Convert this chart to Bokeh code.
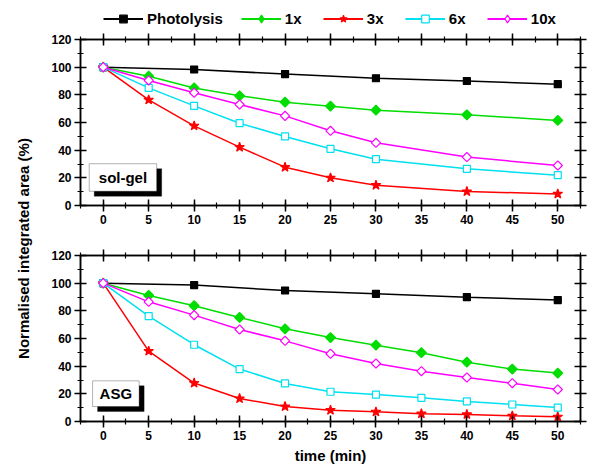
import math
from bokeh.plotting import figure
from bokeh.layouts import row, column
from bokeh.models import (Range1d, LinearAxis, Legend, LegendItem, BoxAnnotation,
                          Label, SingleIntervalTicker, CustomJSTickFormatter)
from bokeh.embed import file_html
from bokeh.resources import INLINE

# ---------------- data ----------------
t_photo = [0, 10, 20, 30, 40, 50]
t_sg = [0, 5, 10, 15, 20, 25, 30, 40, 50]
t_asg = [0, 5, 10, 15, 20, 25, 30, 35, 40, 45, 50]

sg_photo = [100, 98.3, 95.0, 92.0, 90.0, 87.7]
sg_1x = [100, 93.5, 85.0, 79.3, 74.7, 71.8, 68.9, 65.6, 61.5]
sg_3x = [100, 76.4, 57.6, 42.2, 27.7, 20.0, 14.7, 10.1, 8.4]
sg_6x = [100, 85.0, 72.0, 59.5, 49.9, 41.0, 33.5, 26.5, 21.9]
sg_10x = [100, 90.4, 81.5, 73.0, 64.8, 54.0, 45.3, 35.0, 28.9]

asg_photo = [100, 98.6, 94.7, 92.3, 89.9, 87.8]
asg_1x = [100, 91.1, 83.7, 75.2, 67.0, 60.7, 55.2, 49.7, 42.9, 37.9, 35.0]
asg_3x = [100, 50.9, 27.8, 16.6, 10.8, 8.2, 7.0, 5.6, 5.1, 4.1, 3.4]
asg_6x = [100, 76.2, 55.5, 37.9, 27.5, 21.5, 19.5, 17.1, 14.5, 12.3, 10.1]
asg_10x = [100, 86.5, 76.9, 66.5, 58.3, 49.0, 41.9, 36.4, 31.8, 27.7, 23.1]

series_names = ["Photolysis", "1x", "3x", "6x", "10x"]
x_ticks_step = 5
y_ticks_step = 20

FONT = "Liberation Sans"

# name -> (color, marker, size, angle, fill, legend marker)
styles = {
    "Photolysis": ("#000000", "square", 7, 0.0, "#000000", "square"),
    "1x": ("#00dd00", "square", 7, math.pi / 4, "#00dd00", "diamond"),
    "3x": ("#ff0000", "star", 10, 0.0, "#ff0000", "star"),
    "6x": ("#00e0f0", "square", 7, 0.0, "#ffffff", "square"),
    "10x": ("#ff00ff", "square", 6.5, math.pi / 4, "#ffffff", "diamond"),
}


def style_axes(p):
    for ax in p.axis:
        ax.axis_line_width = 1.5
        ax.major_tick_line_width = 1.5
        ax.minor_tick_line_width = 1.2
        ax.major_tick_in = 6
        ax.major_tick_out = 6
        ax.minor_tick_in = 3
        ax.minor_tick_out = 3
        ax.major_label_text_font = FONT
        ax.major_label_text_font_style = "bold"
        ax.major_label_text_font_size = "12px"
        ax.major_label_text_color = "black"
        ax.major_label_standoff = 3
        ax.axis_label_text_font = FONT
        ax.axis_label_text_font_style = "bold"
        ax.axis_label_text_font_size = "15px"
        ax.axis_label_text_color = "black"
        ax.axis_label_standoff = 4


def make_panel(times, data, height, top, bottom, label, box):
    p = figure(width=546, height=height, output_backend="svg", toolbar_location=None,
               x_range=Range1d(-2.5, 52.5), y_range=Range1d(0, 120),
               min_border_left=30, min_border_right=14,
               min_border_top=top, min_border_bottom=bottom)
    p.grid.visible = False
    p.outline_line_color = "black"
    p.outline_line_width = 1.5
    p.background_fill_color = "white"
    p.border_fill_color = "white"

    p.below[0].ticker = SingleIntervalTicker(interval=x_ticks_step, num_minor_ticks=2)
    p.left[0].ticker = SingleIntervalTicker(interval=y_ticks_step, num_minor_ticks=2)
    blank = "return ''"
    top_ax = LinearAxis(ticker=SingleIntervalTicker(interval=x_ticks_step, num_minor_ticks=2),
                        formatter=CustomJSTickFormatter(code=blank))
    right_ax = LinearAxis(ticker=SingleIntervalTicker(interval=y_ticks_step, num_minor_ticks=2),
                          formatter=CustomJSTickFormatter(code=blank))
    p.add_layout(top_ax, "above")
    p.add_layout(right_ax, "right")
    style_axes(p)
    for ax in (top_ax, right_ax):
        ax.major_label_standoff = 0
        ax.major_label_text_font_size = "1px"

    for name in series_names:
        color, marker, size, ang, fill, _ = styles[name]
        xs = times[name]
        ys = data[name]
        p.line(xs, ys, line_color=color, line_width=1.5)
        p.scatter(xs, ys, marker=marker, size=size, angle=ang,
                  line_color=color, fill_color=fill, line_width=1.2)

    # label box with shadow
    l, r, t, b, dx, dy = box
    p.add_layout(BoxAnnotation(left=l + dx, right=r + dx, top=t - dy, bottom=b - dy,
                               fill_color="black", fill_alpha=1, line_color="black"))
    p.add_layout(BoxAnnotation(left=l, right=r, top=t, bottom=b,
                               fill_color="white", fill_alpha=1, line_color="black",
                               line_width=1))
    p.add_layout(Label(x=(l + r) / 2, y=(t + b) / 2, text=label, text_align="center",
                       text_baseline="middle", text_font=FONT, text_font_style="bold",
                       text_font_size="15px", text_color="black"))
    return p


sg_data = {"Photolysis": sg_photo, "1x": sg_1x, "3x": sg_3x, "6x": sg_6x, "10x": sg_10x}
sg_times = {"Photolysis": t_photo, "1x": t_sg, "3x": t_sg, "6x": t_sg, "10x": t_sg}
asg_data = {"Photolysis": asg_photo, "1x": asg_1x, "3x": asg_3x, "6x": asg_6x, "10x": asg_10x}
asg_times = {"Photolysis": t_photo, "1x": t_asg, "3x": t_asg, "6x": t_asg, "10x": t_asg}

p1 = make_panel(sg_times, sg_data, 201, 11, 24, "sol-gel",
                (-1.54, 5.88, 30.2, 10.3, 0.55, 3.6))
p2 = make_panel(asg_times, asg_data, 237, 26, 45, "ASG",
                (-1.17, 3.95, 29.4, 10.8, 0.55, 3.6))
p2.below[0].axis_label = "time (min)"

# legend strip: the sol-gel series again, kept out of this strip's view,
# so only their legend swatches show
pg = figure(width=546, height=28, output_backend="svg", toolbar_location=None,
            x_range=Range1d(0, 1), y_range=Range1d(-2, -1),
            x_axis_location=None, y_axis_location=None, min_border=0)
pg.grid.visible = False
pg.outline_line_color = None
items = []
for name in series_names:
    color, marker, size, ang, fill, lmarker = styles[name]
    ln = pg.line(sg_times[name], sg_data[name], line_color=color, line_width=1.8)
    sc = pg.scatter(sg_times[name], sg_data[name], marker=lmarker, size=size,
                    line_color=color, fill_color=fill, line_width=1.2)
    items.append(LegendItem(label=name, renderers=[ln, sc]))
lg = Legend(items=items, orientation="horizontal", location=(23, 0),
            glyph_width=40, glyph_height=19, label_standoff=4, spacing=18,
            padding=0, margin=0, border_line_color=None,
            background_fill_alpha=0, label_text_font=FONT,
            label_text_font_style="bold", label_text_font_size="15px",
            label_text_color="black", label_height=19)
pg.add_layout(lg)

# shared y-axis title
pl = figure(width=48, height=466, output_backend="svg", toolbar_location=None,
            x_range=Range1d(0, 48), y_range=Range1d(0, 466),
            x_axis_location=None, y_axis_location=None,
            min_border=0)
pl.grid.visible = False
pl.outline_line_color = None
pl.add_layout(Label(x=22.5, y=218, text="Normalised integrated area (%)", angle=math.pi / 2,
                    text_align="center", text_baseline="middle", text_font=FONT,
                    text_font_style="bold", text_font_size="15px", text_color="black"))

layout = row(pl, column(pg, p1, p2))
open("out.html", "w").write(file_html(layout, INLINE))
